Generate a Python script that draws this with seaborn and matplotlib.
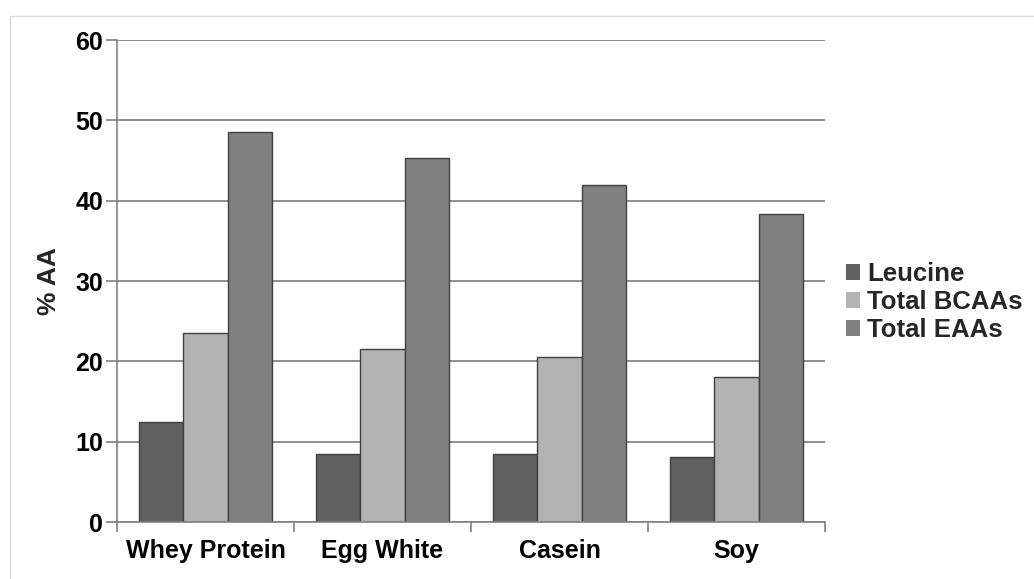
import matplotlib
matplotlib.use("Agg")
import matplotlib.pyplot as plt
import seaborn as sns
import pandas as pd
import numpy as np
from matplotlib.patches import Rectangle

proteins = ["Whey Protein", "Egg White", "Casein", "Soy"]
series = ["Leucine", "Total BCAAs", "Total EAAs"]
leucine = [12.5, 8.5, 8.5, 8.1]
total_bcaas = [23.5, 21.5, 20.5, 18.0]
total_eaas = [48.5, 45.3, 42.0, 38.3]
colors = ["#606060", "#b2b2b2", "#808080"]

df = pd.DataFrame({
    "protein": proteins * 3,
    "series": [s for s in series for _ in proteins],
    "value": leucine + total_bcaas + total_eaas,
})

sns.set_style("white")
plt.rcParams["font.family"] = ["Liberation Sans", "DejaVu Sans"]

fig = plt.figure(figsize=(10.34, 5.79), dpi=100)
ax = fig.add_axes([0.1132, 0.0984, 0.6847, 0.8325])

# grid behind bars
ax.set_axisbelow(True)
ax.yaxis.grid(True, color="#7a7a7a", linewidth=1.2)

sns.barplot(data=df, x="protein", y="value", hue="series", order=proteins,
            hue_order=series, palette=colors, width=0.75, gap=0,
            edgecolor="#404040", linewidth=1.0, saturation=1, ax=ax)

ax.set_ylim(0, 60)
ax.set_xlim(-0.5, 3.5)
ax.set_yticks(np.arange(0, 61, 10))
ax.set_xlabel("")
ax.set_ylabel("% AA", fontsize=19, fontweight="bold", labelpad=10)

for lab in ax.get_xticklabels() + ax.get_yticklabels():
    lab.set_fontweight("bold")
    lab.set_fontsize(18)
    lab.set_color("black")

ax.set_xticks(np.arange(-0.5, 4, 1), minor=True)
ax.tick_params(axis="x", which="major", length=0, pad=12)
ax.tick_params(axis="x", which="minor", length=7, width=1.2, color="#808080", direction="out", bottom=True)
ax.tick_params(axis="y", length=8, width=1.2, color="#808080", direction="out", left=True, pad=2)

for side in ["top", "right"]:
    ax.spines[side].set_visible(False)
for side in ["left", "bottom"]:
    ax.spines[side].set_color("#808080")
    ax.spines[side].set_linewidth(1.2)

leg = ax.legend(loc="center left", bbox_to_anchor=(1.03, 0.456), frameon=False,
                prop={"weight": "bold", "size": 18.5}, handlelength=0.55,
                handleheight=0.6, handletextpad=0.25, labelspacing=0.15,
                borderaxespad=0, borderpad=0)
for h in leg.legend_handles:
    h.set_edgecolor("none")

fig.patches.append(Rectangle((10 / 1034, -0.1), 1.2, 1 - 16 / 579 + 0.1,
                             transform=fig.transFigure, fill=False,
                             edgecolor="#d9d9d9", linewidth=1.0))

fig.savefig("out.png", dpi=100)
